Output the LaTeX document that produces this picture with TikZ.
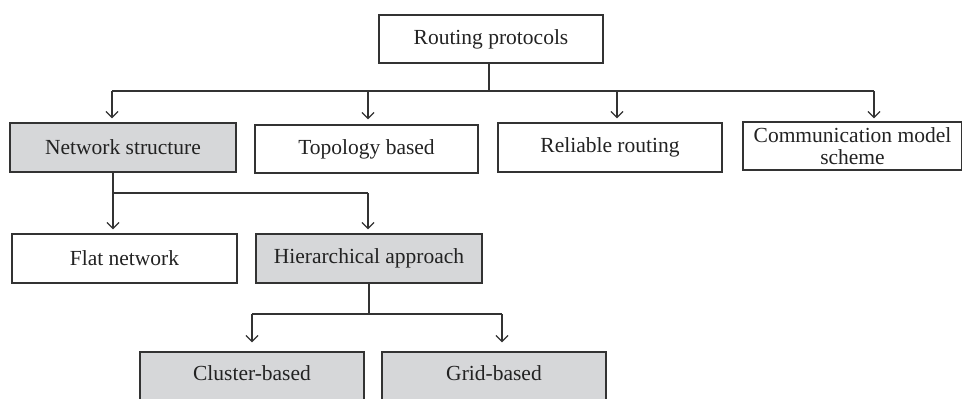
\documentclass[tikz,border=0pt]{standalone}
\usepackage{fontspec}
\setmainfont{Liberation Serif}
\usetikzlibrary{arrows.meta}
\definecolor{linec}{HTML}{333333}
\definecolor{boxfill}{HTML}{D6D7D9}
\definecolor{txt}{HTML}{222222}
\begin{document}
\begin{tikzpicture}[x=1pt,y=-1pt,
  box/.style={draw=linec,line width=1.4pt,minimum width=#1,minimum height=48pt,inner sep=0pt,
    font=\fontsize{21.5}{22}\selectfont,text=txt,align=center},
  box/.default=224pt,
  gbox/.style={box=#1,fill=boxfill},
  gbox/.default=224pt,
  conn/.style={draw=linec,line width=1.4pt},
  arr/.style={conn,-{Straight Barb[length=6pt,width=12pt,line width=1.2pt]}}]
\clip (0,0) rectangle (962,399);
\useasboundingbox (0,0) rectangle (962,399);
\node[box=224pt] (root) at (491,39) {Routing protocols};
\node[gbox=226pt,minimum height=49pt] (ns) at (123,147.5) {Network structure};
\node[box=223pt] (tb) at (366.5,149) {Topology based};
\node[box=224pt,minimum height=49pt] (rr) at (610,147.5) {Reliable routing};
\node[box=219pt] (cm) at (852.5,146) {Communication model\\scheme};
\node[box=225pt,minimum height=49pt] (fn) at (124.5,258.5) {Flat network};
\node[gbox=226pt,minimum height=49pt] (ha) at (369,258.5) {Hierarchical approach};
\node[gbox=224pt,minimum height=56pt] (cb) at (252,380) {\raisebox{14pt}{Cluster-based}};
\node[gbox=224pt,minimum height=56pt] (gb) at (494,380) {\raisebox{14pt}{Grid-based}};
% level 1
\coordinate (j1) at (489,91);
\coordinate (a1) at (112,91);
\coordinate (a2) at (368,91);
\coordinate (a3) at (617,91);
\coordinate (a4) at (874,91);
\draw[conn] (j1 |- root.south) -- (j1);
\draw[conn] (a1) -- (a4);
\draw[arr,shorten >=4pt] (a1) -- (a1 |- ns.north);
\draw[arr,shorten >=5pt] (a2) -- (a2 |- tb.north);
\draw[arr,shorten >=4pt] (a3) -- (a3 |- rr.north);
\draw[arr,shorten >=3pt] (a4) -- (a4 |- cm.north);
% level 2
\coordinate (b1) at (113,193);
\coordinate (b2) at (368,193);
\draw[conn] (b1 |- ns.south) -- (b1) -- (b2);
\draw[arr,shorten >=4pt] (b1) -- (b1 |- fn.north);
\draw[arr,shorten >=4pt] (b2) -- (b2 |- ha.north);
% level 3
\coordinate (c0) at (369,314);
\coordinate (c1) at (252,314);
\coordinate (c2) at (502,314);
\draw[conn] (c0 |- ha.south) -- (c0);
\draw[conn] (c1) -- (c2);
\draw[arr,shorten >=9pt] (c1) -- (c1 |- cb.north);
\draw[arr,shorten >=9pt] (c2) -- (c2 |- gb.north);
\end{tikzpicture}
\end{document}
